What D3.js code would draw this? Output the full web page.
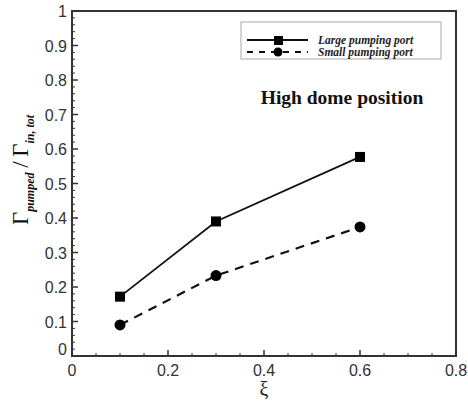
<!DOCTYPE html>
<html>
<head>
<meta charset="utf-8">
<script src="https://cdn.jsdelivr.net/npm/d3@7"></script>
<style>
  body { margin: 0; background: #fff; }
</style>
</head>
<body>
<svg id="chart" width="468" height="404"></svg>
<script>
    // values
    var xi = [0.1, 0.3, 0.6];
    var largePort = [0.172, 0.39, 0.577];
    var smallPort = [0.09, 0.233, 0.374];
    var xTicks = [0, 0.2, 0.4, 0.6, 0.8];
    var yTicks = [0, 0.1, 0.2, 0.3, 0.4, 0.5, 0.6, 0.7, 0.8, 0.9, 1];
    var seriesNames = ["Large pumping port", "Small pumping port"];

    var sans = "Liberation Sans, Arial, sans-serif";
    var serif = "Liberation Serif, Times New Roman, serif";

    var svg = d3.select("#chart");
    var pLeft = 72, pRight = 456, pTop = 11, pBottom = 356;

    var x = d3.scaleLinear().domain([0, 0.8]).range([pLeft, pRight]);
    var y = d3.scaleLinear().domain([0, 1]).range([pBottom, pTop]);

    var axisColor = "#333";

    // ticks, pointing inward
    var g = svg.append("g");
    d3.range(0, 0.801, 0.05).forEach(function (v) {
        var major = Math.abs(v / 0.2 - Math.round(v / 0.2)) < 1e-6;
        g.append("line")
            .attr("x1", x(v)).attr("x2", x(v))
            .attr("y1", pBottom).attr("y2", pBottom - (major ? 6 : 3))
            .attr("stroke", axisColor).attr("stroke-width", major ? 1.5 : 1);
    });
    d3.range(0, 1.001, 0.02).forEach(function (v) {
        var major = Math.abs(v / 0.1 - Math.round(v / 0.1)) < 1e-6;
        g.append("line")
            .attr("x1", pLeft).attr("x2", pLeft + (major ? 6 : 3))
            .attr("y1", y(v)).attr("y2", y(v))
            .attr("stroke", axisColor).attr("stroke-width", major ? 1.5 : 1);
    });

    // frame
    svg.append("rect")
        .attr("x", pLeft).attr("y", pTop)
        .attr("width", pRight - pLeft).attr("height", pBottom - pTop)
        .attr("fill", "none").attr("stroke", axisColor).attr("stroke-width", 2);

    // tick labels
    svg.selectAll(".xl").data(xTicks).enter().append("text")
        .attr("x", function (d) { return x(d); })
        .attr("y", 376)
        .attr("text-anchor", "middle")
        .style("font-family", sans)
        .attr("font-size", 16)
        .attr("fill", "#333")
        .text(function (d) { return d; });

    svg.selectAll(".yl").data(yTicks).enter().append("text")
        .attr("x", 67)
        .attr("y", function (d) { return y(d) + (d == 0 ? -1 : 6); })
        .attr("text-anchor", "end")
        .style("font-family", sans)
        .attr("font-size", 16)
        .attr("fill", "#333")
        .text(function (d) { return d; });

    // axis titles
    svg.append("text")
        .attr("x", 264).attr("y", 396)
        .attr("text-anchor", "middle")
        .style("font-family", serif)
        .attr("font-size", 20)
        .attr("fill", "#222")
        .text("ξ");

    var yt = svg.append("text")
        .attr("transform", "translate(28,170) rotate(-90)")
        .attr("text-anchor", "middle")
        .style("font-family", serif)
        .attr("fill", "#111");
    yt.append("tspan").attr("font-size", 23).text("Γ");
    yt.append("tspan").attr("font-size", 12).attr("font-style", "italic").attr("font-weight", "bold")
        .attr("dy", 6).text("pumped");
    yt.append("tspan").attr("font-size", 23).attr("dy", -6).text("\u2009/\u2009Γ");
    yt.append("tspan").attr("font-size", 12).attr("font-style", "italic").attr("font-weight", "bold")
        .attr("dy", 6).text("in, tot");

    // series
    var line = d3.line()
        .x(function (d) { return x(d[0]); })
        .y(function (d) { return y(d[1]); });

    svg.append("path")
        .datum(d3.zip(xi, largePort))
        .attr("d", line)
        .attr("fill", "none").attr("stroke", "#111").attr("stroke-width", 1.8);

    svg.append("path")
        .datum(d3.zip(xi, smallPort))
        .attr("d", line)
        .attr("fill", "none").attr("stroke", "#111").attr("stroke-width", 2.2)
        .attr("stroke-dasharray", "9,7");

    svg.selectAll(".sq").data(d3.zip(xi, largePort)).enter().append("rect")
        .attr("x", function (d) { return x(d[0]) - 5; })
        .attr("y", function (d) { return y(d[1]) - 5; })
        .attr("width", 10).attr("height", 10)
        .attr("fill", "#000");

    svg.selectAll(".ci").data(d3.zip(xi, smallPort)).enter().append("circle")
        .attr("cx", function (d) { return x(d[0]); })
        .attr("cy", function (d) { return y(d[1]); })
        .attr("r", 5.5)
        .attr("fill", "#000");

    // legend
    var lg = svg.append("g");
    lg.append("rect")
        .attr("x", 241).attr("y", 22).attr("width", 200).attr("height", 37)
        .attr("fill", "#fff").attr("stroke", "#aaa").attr("stroke-width", 1);
    lg.append("line").attr("x1", 247).attr("x2", 308).attr("y1", 40).attr("y2", 40)
        .attr("stroke", "#111").attr("stroke-width", 2);
    lg.append("rect").attr("x", 274).attr("y", 36).attr("width", 9).attr("height", 9).attr("fill", "#000");
    lg.append("line").attr("x1", 247).attr("x2", 308).attr("y1", 52).attr("y2", 52)
        .attr("stroke", "#111").attr("stroke-width", 2).attr("stroke-dasharray", "6,6");
    lg.append("circle").attr("cx", 278).attr("cy", 52).attr("r", 4.5).attr("fill", "#000");
    lg.selectAll(".lt").data(seriesNames).enter().append("text")
        .attr("x", 318)
        .attr("y", function (d, i) { return 44 + i * 12; })
        .style("font-family", serif)
        .attr("font-style", "italic").attr("font-weight", "bold")
        .attr("font-size", 11.5)
        .attr("fill", "#222")
        .text(function (d) { return d; });

    svg.append("text")
        .attr("x", 342).attr("y", 104)
        .attr("text-anchor", "middle")
        .style("font-family", serif)
        .attr("font-weight", "bold")
        .attr("font-size", 19.5)
        .attr("fill", "#111")
        .text("High dome position");
</script>
</body>
</html>
